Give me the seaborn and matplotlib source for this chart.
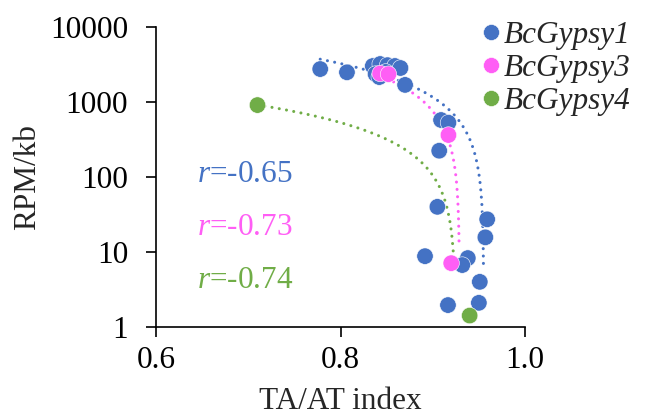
import numpy as np
import pandas as pd
import matplotlib
matplotlib.use("Agg")
import matplotlib.pyplot as plt
import seaborn as sns
from matplotlib.lines import Line2D

# ---- data ----
series_names = ["BcGypsy1", "BcGypsy3", "BcGypsy4"]
colors = ["#4472C4", "#FF5EF5", "#70AD47"]

gypsy1_x = [0.778, 0.807, 0.835, 0.843, 0.851, 0.859, 0.865, 0.838, 0.842, 0.849,
            0.870, 0.909, 0.917, 0.907, 0.905, 0.8916, 0.959, 0.957, 0.938, 0.932,
            0.951, 0.9165, 0.950]
gypsy1_y = [2750, 2490, 3020, 3210, 3100, 3020, 2840, 2360, 2150, 2520,
            1690, 575, 530, 224, 40, 8.8, 27.3, 15.7, 8.3, 6.7,
            4.0, 1.96, 2.1]
gypsy3_x = [0.843, 0.852, 0.917, 0.920]
gypsy3_y = [2400, 2350, 363, 7.1]
gypsy4_x = [0.710, 0.940]
gypsy4_y = [910, 1.42]

# linear trendlines (y = a + b*x) shown on the log axis, with their x spans
trend_a = [20043, 24133, 3947]
trend_b = [-20981, -25977, -4269]
trend_x_start = [0.778, 0.843, 0.710]
trend_x_end = [0.955, 0.9285, 0.9232]

r_labels = ["-0.65", "-0.73", "-0.74"]

x_ticks = [0.6, 0.8, 1.0]
x_ticklabels = ["0.6", "0.8", "1.0"]
y_ticks = [1, 10, 100, 1000, 10000]
y_ticklabels = ["1", "10", "100", "1000", "10000"]

# ---- build frame ----
df = pd.concat([
    pd.DataFrame({"x": gypsy1_x, "y": gypsy1_y, "s": series_names[0]}),
    pd.DataFrame({"x": gypsy3_x, "y": gypsy3_y, "s": series_names[1]}),
    pd.DataFrame({"x": gypsy4_x, "y": gypsy4_y, "s": series_names[2]}),
], ignore_index=True)

sns.set_theme(style="white")
plt.rcParams["font.family"] = ["Liberation Serif", "DejaVu Serif"]
plt.rcParams["mathtext.fontset"] = "custom"
plt.rcParams["mathtext.rm"] = "Liberation Serif"
plt.rcParams["mathtext.it"] = "Liberation Serif:italic"

FS = 22.5

fig = plt.figure(figsize=(6.49, 4.19), dpi=100)
ax = fig.add_axes([156 / 649, 1 - 327 / 419, (525 - 156) / 649, (327 - 27) / 419])

palette = dict(zip(series_names, colors))

# trendlines
for i, name in enumerate(series_names):
    xs = np.linspace(trend_x_start[i], trend_x_end[i], 400)
    ys = trend_a[i] + trend_b[i] * xs
    tdf = pd.DataFrame({"x": xs, "y": ys})
    sns.lineplot(data=tdf, x="x", y="y", ax=ax, color=colors[i], lw=2.2,
                 linestyle=(0, (0.01, 2.4)), dash_capstyle="round",
                 sort=False, estimator=None, legend=False, zorder=1)

sns.scatterplot(data=df, x="x", y="y", hue="s", palette=palette, ax=ax,
                s=140, edgecolor="white", linewidth=0.4, legend=False, zorder=3)

ax.set_yscale("log")
ax.set_xlim(0.6, 1.0)
ax.set_ylim(1, 10000)
ax.set_xticks(x_ticks)
ax.set_xticklabels(x_ticklabels)
ax.set_yticks(y_ticks)
ax.set_yticklabels(y_ticklabels)
ax.yaxis.set_minor_locator(matplotlib.ticker.NullLocator())

for sp in ["top", "right"]:
    ax.spines[sp].set_visible(False)
for sp in ["left", "bottom"]:
    ax.spines[sp].set_color("black")
    ax.spines[sp].set_linewidth(1.2)

ax.tick_params(axis="both", which="major", direction="out", length=7, width=1.2,
               colors="black", labelsize=FS, left=True, bottom=True)
ax.tick_params(axis="y", pad=13)
ax.tick_params(axis="x", pad=7)

ax.set_xlabel("TA/AT index", fontsize=FS, labelpad=8)
ax.set_ylabel("RPM/kb", fontsize=FS, labelpad=6)

# r annotations
r_y = [174, 227, 280]
for i in range(3):
    ax.text(197 / 649, 1 - r_y[i] / 419, r"$\it{r}$=" + r_labels[i],
            transform=fig.transFigure, fontsize=FS, color=colors[i],
            ha="left", va="center")

# legend
handles = [Line2D([0], [0], marker="o", linestyle="", markersize=11.5,
                  markerfacecolor=c, markeredgecolor="white", markeredgewidth=0.4)
           for c in colors]
leg = fig.legend(handles, series_names, loc="upper left",
                 bbox_to_anchor=(468 / 649, 1 - 8 / 419),
                 frameon=False, prop={"family": "Liberation Serif", "style": "italic", "size": FS},
                 handlelength=0.7, handletextpad=0.05, labelspacing=0.14, borderaxespad=0)

fig.savefig("out.png", dpi=100)
